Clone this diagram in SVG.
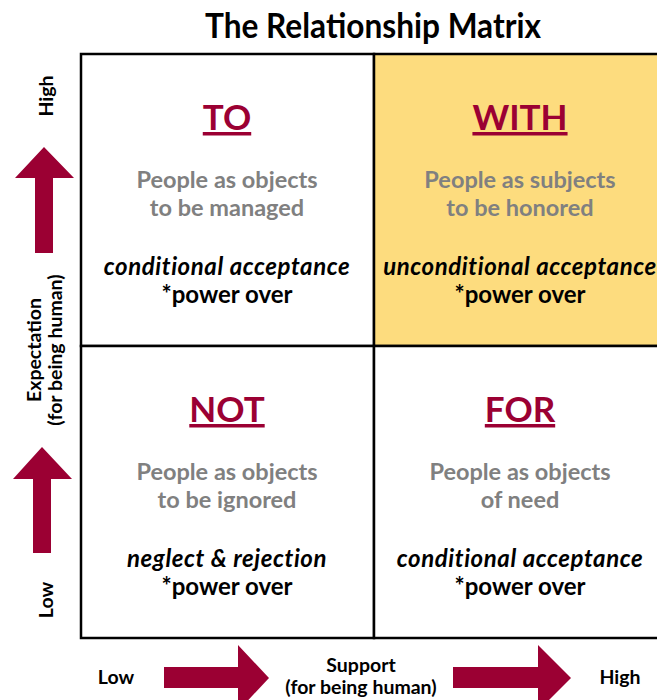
<svg xmlns="http://www.w3.org/2000/svg" width="657" height="700" viewBox="0 0 657 700">
<defs>
<style>
text{font-family:Lato,"Open Sans","Liberation Sans",sans-serif;font-weight:bold;text-anchor:middle}
.title{font-size:34px;fill:#000}
.head{font-size:35px;fill:#9b0033;text-decoration:underline}
.grey{font-size:23.5px;fill:#808080}
.ital{font-size:24px;fill:#000;font-style:italic;letter-spacing:0.6px}
.pow{font-size:24px;fill:#000}
.axis{font-size:19.5px;fill:#000}
.arrow{fill:#9b0033}
.cell{stroke:#000;stroke-width:2.5}
</style>
</defs>
<text class="title" x="373" y="38" textLength="336" lengthAdjust="spacingAndGlyphs">The Relationship Matrix</text>

<g id="cell-to">
<rect class="cell" x="81" y="54" width="293" height="292" fill="#fff"/>
<text class="head" x="227" y="130">TO</text>
<text class="grey" x="227" y="188">People as objects</text>
<text class="grey" x="227" y="216">to be managed</text>
<text class="ital" x="227" y="275">conditional acceptance</text>
<text class="pow" x="227" y="303">*power over</text>
</g>
<g id="cell-with">
<rect class="cell" x="374" y="54" width="300" height="292" fill="#fddc7e"/>
<text class="head" x="520" y="130">WITH</text>
<text class="grey" x="520" y="188">People as subjects</text>
<text class="grey" x="520" y="216">to be honored</text>
<text class="ital" x="520" y="275">unconditional acceptance</text>
<text class="pow" x="520" y="303">*power over</text>
</g>
<g id="cell-not">
<rect class="cell" x="81" y="346" width="293" height="292" fill="#fff"/>
<text class="head" x="227" y="422">NOT</text>
<text class="grey" x="227" y="480">People as objects</text>
<text class="grey" x="227" y="508">to be ignored</text>
<text class="ital" x="227" y="567">neglect &amp; rejection</text>
<text class="pow" x="227" y="595">*power over</text>
</g>
<g id="cell-for">
<rect class="cell" x="374" y="346" width="300" height="292" fill="#fff"/>
<text class="head" x="520" y="422">FOR</text>
<text class="grey" x="520" y="480">People as objects</text>
<text class="grey" x="520" y="508">of need</text>
<text class="ital" x="520" y="567">conditional acceptance</text>
<text class="pow" x="520" y="595">*power over</text>
</g>

<g id="axes">
<polygon class="arrow" points="35,253 35,178 15,178 44,147 74,178 53,178 53,253"/>
<polygon class="arrow" points="33,553 33,479 13,479 42,447 72,479 51,479 51,553"/>
<polygon class="arrow" points="164,667 238,667 238,645 269,678 238,711 238,688 164,688"/>
<polygon class="arrow" points="453,667 538,667 538,645 571,678 538,711 538,688 453,688"/>
<text class="axis" transform="translate(53,96) rotate(-90)">High</text>
<text class="axis" transform="translate(41,350) rotate(-90)">Expectation</text>
<text class="axis" transform="translate(62,350) rotate(-90)">(for being human)</text>
<text class="axis" transform="translate(53,600) rotate(-90)">Low</text>
<text class="axis" x="116" y="684">Low</text>
<text class="axis" x="361" y="672">Support</text>
<text class="axis" x="361" y="694">(for being human)</text>
<text class="axis" x="620" y="684">High</text>
</g>
</svg>
